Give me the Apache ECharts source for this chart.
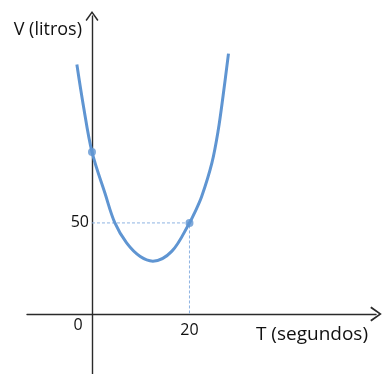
<!DOCTYPE html>
<html>
<head>
<meta charset="utf-8">
<script src="https://cdn.jsdelivr.net/npm/echarts@6/dist/echarts.min.js"></script>
<style>
  html, body { margin: 0; padding: 0; background: #ffffff; }
  #chart { width: 383px; height: 374px; }
</style>
</head>
<body>
<div id="chart"></div>
<script>
// Volume V (litros) against time T (segundos)
const curveT = [-3.1, -1.8, 0, 2.7, 4.7, 7.1, 9.9, 12.5, 16.4, 20, 21, 22.5, 24.6, 25.9, 26.9, 28];
const curveV = [137, 115, 89, 66, 50, 39, 31.5, 29, 34.5, 50, 55.3, 64.5, 83, 101, 120, 143];

// highlighted points on the curve
const markedT = [0, 20];
const markedV = [89, 50];

// tick labels
const xTicks = [0, 20];
const yTicks = [50];

const curveColor = '#5f95d2';
const guideColor = '#8db3e2';
const axisColor = '#2a2a2a';
const font = 'Open Sans';

const chevron = 'path://M0,9 L6.5,0 L13,9 L11.8,10 L6.5,2.4 L1.2,10 Z';

const chart = echarts.init(document.getElementById('chart'), null, { renderer: 'canvas' });

// Axes cross at the origin, inside the plotting area: both are shifted
// inward from the grid edges so that their labels travel with them.
const xMin = -13.33, xMax = 58.26;
const yMin = -33, yMax = 163.7;

chart.setOption({
  animation: false,
  grid: { left: 27, right: 7, top: 16, bottom: 0, containLabel: false, outerBoundsMode: 'none' },
  xAxis: {
    type: 'value',
    min: xMin,
    max: xMax,
    position: 'bottom',
    offset: -60,
    splitLine: { show: false },
    axisTick: { show: false },
    axisLine: {
      onZero: false,
      lineStyle: { color: axisColor, width: 1.4 },
      symbol: ['none', chevron],
      symbolSize: [15, 12]
    },
    axisLabel: {
      customValues: xTicks,
      margin: 3,
      color: '#111',
      fontFamily: font,
      fontSize: 16,
      formatter: v => v === 0 ? '{z|0}' : '{t|' + v + '}',
      rich: {
        z: { fontFamily: font, fontSize: 16, color: '#111', padding: [0, 28, 0, 0] },
        t: { fontFamily: font, fontSize: 16, color: '#111', padding: [5, 0, 0, 0] }
      }
    },
    name: 'T (segundos)',
    nameLocation: 'end',
    nameGap: -8,
    nameTextStyle: {
      fontFamily: font, fontSize: 19, color: '#111',
      align: 'right', verticalAlign: 'top', padding: [11, 0, 0, 0]
    }
  },
  yAxis: {
    type: 'value',
    min: yMin,
    max: yMax,
    position: 'left',
    offset: -65,
    splitLine: { show: false },
    axisTick: { show: false },
    axisLine: {
      onZero: false,
      lineStyle: { color: axisColor, width: 1.4 },
      symbol: ['none', chevron],
      symbolSize: [13, 10]
    },
    axisLabel: {
      customValues: yTicks,
      margin: 3,
      color: '#111',
      fontFamily: font,
      fontSize: 16
    },
    name: 'V (litros)',
    nameLocation: 'end',
    nameGap: -14,
    nameTextStyle: {
      fontFamily: font, fontSize: 18, color: '#111',
      align: 'right', verticalAlign: 'middle', padding: [0, 10, 0, 0]
    }
  },
  series: [
    {
      name: 'guia',
      type: 'line',
      data: [[markedT[0], markedV[1]], [markedT[1], markedV[1]], [markedT[1], 0]],
      symbol: 'none',
      lineStyle: { color: guideColor, width: 1, type: [3, 2] },
      z: 1
    },
    {
      name: 'V',
      type: 'line',
      data: curveT.map((t, i) => [t, curveV[i]]),
      smooth: 0.35,
      symbol: 'none',
      lineStyle: { color: curveColor, width: 3 },
      z: 2
    },
    {
      name: 'pontos',
      type: 'scatter',
      data: markedT.map((t, i) => [t, markedV[i]]),
      symbolSize: 8,
      itemStyle: { color: curveColor },
      z: 3
    }
  ]
});
</script>
</body>
</html>
